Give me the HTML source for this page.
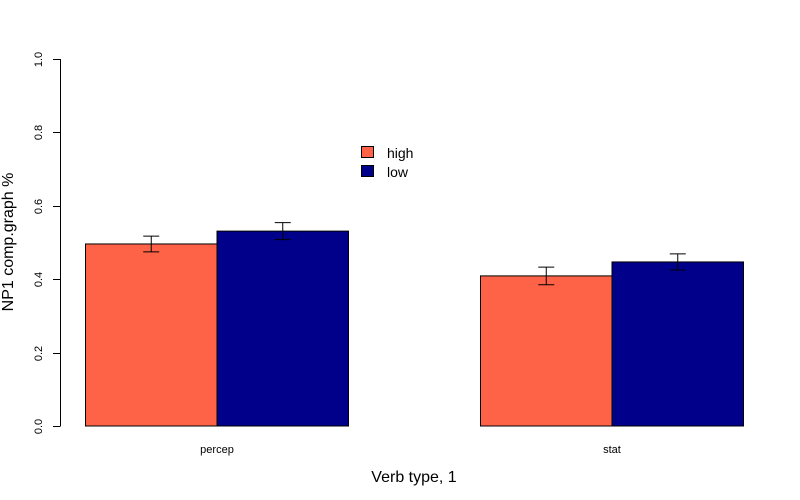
<!DOCTYPE html>
<html><head><meta charset="utf-8"><style>
body{margin:0;background:#fff}
svg{display:block;font-family:"Liberation Sans",sans-serif}
</style></head><body>
<svg id="chart" width="800" height="500" viewBox="0 0 800 500">
<g id="bars"></g>
<g id="yaxis"></g>
<text x="414" y="482" font-size="16" text-anchor="middle">Verb type, 1</text>
<text transform="translate(13,242) rotate(-90)" font-size="16" text-anchor="middle">NP1 comp.graph %</text>
<g>
<rect x="361.5" y="146.5" width="12" height="11" fill="#FF6347" stroke="#000"/>
<text x="387" y="158" font-size="14">high</text>
<rect x="361.5" y="165.5" width="12" height="11" fill="#00008B" stroke="#000"/>
<text x="387" y="177" font-size="14">low</text>
</g>
</svg>
<script>
const categories = ["percep", "stat"];
const seriesNames = ["high", "low"];
const highValues = [0.496, 0.409];
const lowValues = [0.531, 0.447];
const highErr = [0.0215, 0.024];
const lowErr = [0.023, 0.022];
const yTicks = [0, 0.2, 0.4, 0.6, 0.8, 1.0];
const yTickLabels = ["0.0", "0.2", "0.4", "0.6", "0.8", "1.0"];

const NS = "http://www.w3.org/2000/svg";
const y0 = 426, y1 = 59;
function yScale(v){ return y0 - v*(y0-y1); }
const groupStart = [85.5, 480.5];
const barW = 131.5;
function mk(tag, attrs, parent){ const e=document.createElementNS(NS,tag); for(const k in attrs) e.setAttribute(k,attrs[k]); parent.appendChild(e); return e; }

const bars = document.getElementById('bars');
const colors = ["#FF6347", "#00008B"];
const vals = [highValues, lowValues];
const errs = [highErr, lowErr];
categories.forEach((c, i) => {
  vals.forEach((series, s) => {
    const x = groupStart[i] + s*barW;
    const top = yScale(series[i]);
    const r = mk('rect', {x:x, y:top, width:barW, height:yScale(0)-top, fill:colors[s], stroke:'#000', 'stroke-width':1}, bars);
    
    
    const cx = x + barW/2;
    const hi = yScale(series[i] + errs[s][i]), lo = yScale(series[i] - errs[s][i]);
    const g = mk('g', {stroke:'#000', 'stroke-width':1}, bars);
    
    
    mk('line', {x1:cx, x2:cx, y1:hi, y2:lo}, g);
    mk('line', {x1:cx-8, x2:cx+8, y1:hi, y2:hi}, g);
    mk('line', {x1:cx-8, x2:cx+8, y1:lo, y2:lo}, g);
  });
  const t = mk('text', {x:groupStart[i]+barW, y:453, 'font-size':11, 'text-anchor':'middle'}, bars);
  t.textContent = c;
  
  
});

const ya = document.getElementById('yaxis');
mk('line', {x1:60.5, x2:60.5, y1:yScale(yTicks[0]), y2:yScale(yTicks[yTicks.length-1]), stroke:'#000'}, ya);
yTicks.forEach((v, i) => {
  const y = Math.round(yScale(v))+0.5;
  mk('line', {x1:53, x2:60.5, y1:y, y2:y, stroke:'#000'}, ya);
  const t = mk('text', {transform:'translate(42,'+y+') rotate(-90)', 'font-size':11, 'text-anchor':'middle'}, ya);
  t.textContent = yTickLabels[i];
  
  
});
</script>
</body></html>
